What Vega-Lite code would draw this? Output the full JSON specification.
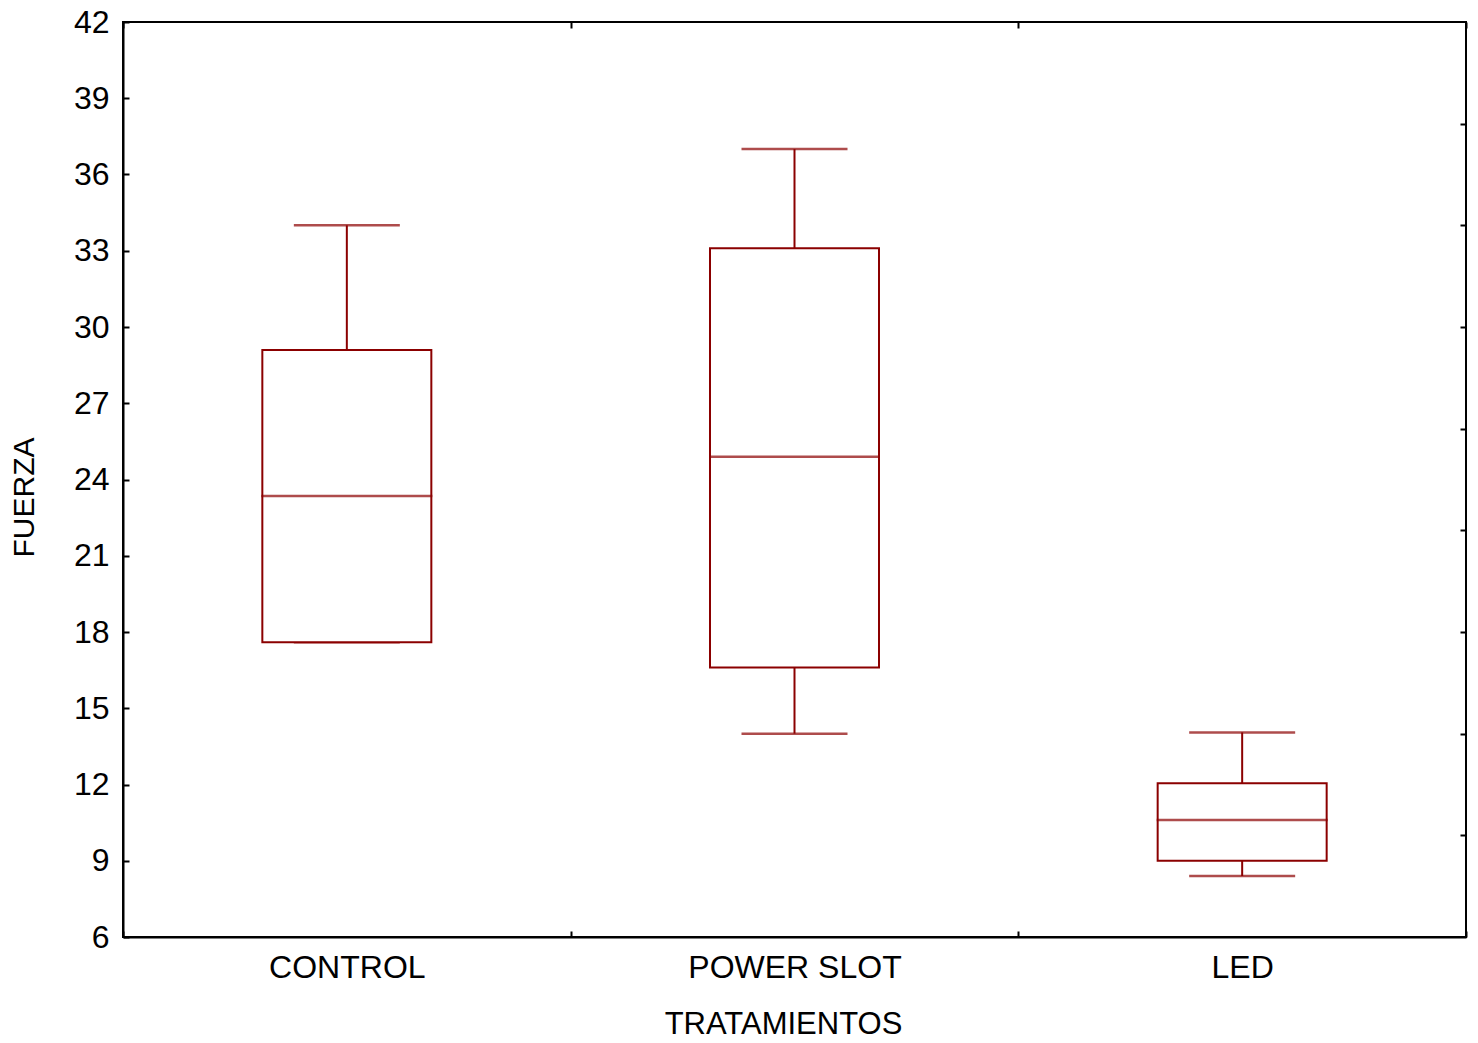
{
  "$schema": "https://vega.github.io/schema/vega-lite/v6.json",
  "width": 1343,
  "height": 915,
  "autosize": {"type": "none"},
  "padding": {"left": 123, "top": 22, "right": 12, "bottom": 106},
  "background": "white",
  "config": {
    "font": "Liberation Sans",
    "view": {"stroke": "black", "strokeWidth": 2},
    "axis": {
      "grid": false,
      "domainColor": "black",
      "domainWidth": 2,
      "tickColor": "black",
      "tickWidth": 2,
      "labelColor": "black",
      "titleColor": "black",
      "labelFont": "Liberation Sans",
      "titleFont": "Liberation Sans",
      "labelFontSize": 32,
      "titleFontSize": 31,
      "titleFontWeight": "normal",
      "labelLimit": 0
    }
  },
  "data": {
    "values": [
      {"tratamiento": "CONTROL", "min": 17.6, "q1": 17.6, "median": 23.35, "q3": 29.1, "max": 34.0},
      {"tratamiento": "POWER SLOT", "min": 14.0, "q1": 16.6, "median": 24.9, "q3": 33.1, "max": 37.0},
      {"tratamiento": "LED", "min": 8.4, "q1": 9.0, "median": 10.6, "q3": 12.05, "max": 14.05}
    ]
  },
  "resolve": {"axis": {"x": "independent", "y": "independent"}},
  "layer": [
    {
      "mark": {"type": "rule", "color": "#8B0000", "strokeWidth": 2},
      "encoding": {
        "x": {
          "field": "tratamiento", "type": "nominal",
          "sort": ["CONTROL", "POWER SLOT", "LED"],
          "scale": {"paddingInner": 0, "paddingOuter": 0},
          "axis": {"orient": "top", "labels": false, "title": null, "tickBand": "extent", "tickSize": -6, "domain": false}
        },
        "y": {
          "field": "q3", "type": "quantitative",
          "scale": {"domain": [6, 42], "nice": false, "zero": false},
          "axis": {"orient": "right", "labels": false, "title": null, "values": [10, 14, 18, 22, 26, 30, 34, 38], "tickSize": -6, "domain": false}
        },
        "y2": {"field": "max"}
      }
    },
    {
      "mark": {"type": "rule", "color": "#8B0000", "strokeWidth": 2},
      "encoding": {
        "x": {"field": "tratamiento", "type": "nominal", "sort": ["CONTROL", "POWER SLOT", "LED"], "axis": null},
        "y": {"field": "min", "type": "quantitative", "axis": null},
        "y2": {"field": "q1"}
      }
    },
    {
      "mark": {"type": "tick", "color": "#8B0000", "size": 106, "thickness": 2.5, "orient": "horizontal"},
      "encoding": {
        "x": {"field": "tratamiento", "type": "nominal", "sort": ["CONTROL", "POWER SLOT", "LED"], "axis": null},
        "y": {"field": "max", "type": "quantitative", "axis": null}
      }
    },
    {
      "mark": {"type": "tick", "color": "#8B0000", "size": 106, "thickness": 2.5, "orient": "horizontal"},
      "encoding": {
        "x": {"field": "tratamiento", "type": "nominal", "sort": ["CONTROL", "POWER SLOT", "LED"], "axis": null},
        "y": {"field": "min", "type": "quantitative", "axis": null}
      }
    },
    {
      "mark": {"type": "bar", "fill": "white", "stroke": "#8B0000", "strokeWidth": 2, "width": 169},
      "encoding": {
        "x": {
          "field": "tratamiento", "type": "nominal",
          "sort": ["CONTROL", "POWER SLOT", "LED"],
          "axis": {"orient": "bottom", "labelAngle": 0, "title": "TRATAMIENTOS", "tickBand": "extent", "tickSize": -6, "labelPadding": 21, "titlePadding": 26, "titleX": 660}
        },
        "y": {
          "field": "q1", "type": "quantitative",
          "axis": {"orient": "left", "title": "FUERZA", "titleFontSize": 30, "values": [6, 9, 12, 15, 18, 21, 24, 27, 30, 33, 36, 39, 42], "tickSize": -6, "labelPadding": 20, "titlePadding": 34, "titleY": 475}
        },
        "y2": {"field": "q3"}
      }
    },
    {
      "mark": {"type": "tick", "color": "#8B0000", "size": 171, "thickness": 2.5, "orient": "horizontal"},
      "encoding": {
        "x": {"field": "tratamiento", "type": "nominal", "sort": ["CONTROL", "POWER SLOT", "LED"], "axis": null},
        "y": {"field": "median", "type": "quantitative", "axis": null}
      }
    }
  ]
}
